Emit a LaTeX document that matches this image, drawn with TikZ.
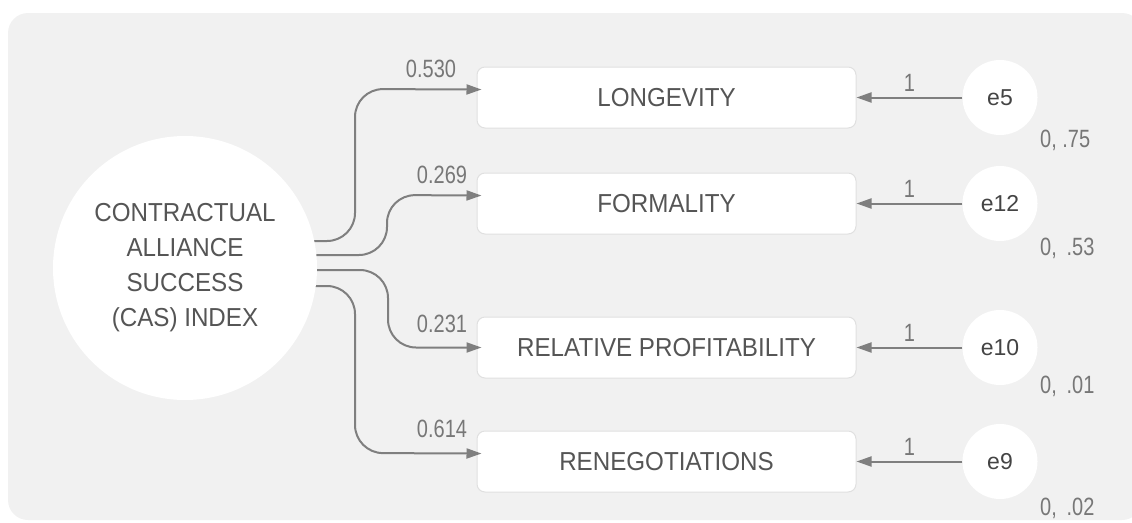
\documentclass[tikz,border=0pt]{standalone}
\usepackage{fontspec}
\setmainfont{Liberation Sans}
\newfontfamily\capsfont[FakeStretch=0.93]{Liberation Sans}
\newfontfamily\numfont[FakeStretch=0.8]{Liberation Sans}
\usetikzlibrary{arrows.meta}
\definecolor{panel}{HTML}{F1F1F1}
\definecolor{boxline}{HTML}{E0E0E0}
\definecolor{linec}{HTML}{7F7F7F}
\definecolor{txt}{HTML}{555555}
\definecolor{etxt}{HTML}{444444}
\definecolor{numc}{HTML}{777777}
\begin{document}
\begin{tikzpicture}[x=1pt,y=-1pt,
  panelbg/.style={fill=panel, rounded corners=20pt},
  latent/.style={circle, fill=white, minimum size=264pt, inner sep=0pt,
    font=\capsfont\fontsize{26}{35}\selectfont, text=txt, align=center},
  errnode/.style={circle, fill=white, minimum size=75pt, inner sep=0pt,
    font=\fontsize{23}{28}\selectfont, text=etxt},
  obs/.style={rectangle, rounded corners=8pt, draw=boxline, line width=1pt,
    fill=white, minimum width=379pt, minimum height=61pt,
    font=\capsfont\fontsize{26}{31}\selectfont, text=txt},
  conn/.style={draw=linec, line width=2pt, rounded corners=28pt,
    -{Triangle[length=15pt,width=10pt]}, shorten >=-5pt},
  errarrow/.style={draw=linec, line width=2pt,
    -{Triangle[length=15pt,width=10pt]}},
  numlbl/.style={font=\numfont\fontsize{25}{30}\selectfont, text=numc, inner sep=0pt},
]
\useasboundingbox (0,0) rectangle (1132,522);
\clip (0,0) rectangle (1132,522);

% background panel
\fill[panelbg] (8,13) rectangle (1142,520);

% observed indicators
\node[obs] (lon) at (666.5,97.5) {LONGEVITY};
\node[obs] (for) at (666.5,203.5) {FORMALITY};
\node[obs] (rel) at (666.5,347.5) {RELATIVE PROFITABILITY};
\node[obs] (ren) at (666.5,461.5) {RENEGOTIATIONS};

% error terms
\node[errnode] (e5)  at (1000,97.5)  {e5};
\node[errnode] (e12) at (1000,203.5) {e12};
\node[errnode] (e10) at (1000,347.5) {e10};
\node[errnode] (e9)  at (1000,461.5) {e9};

% error paths
\foreach \e/\b in {e5/lon, e12/for, e10/rel, e9/ren}
  \draw[errarrow] (\e.west) -- node[numlbl, above=5pt] (one-\e) {1} (\b.east);

% variances of the error terms
\node[numlbl, anchor=base west] (v5)  at (1040,147) {0, .75};
\node[numlbl, anchor=base west] (v12) at (1040,255) {0,\, .53};
\node[numlbl, anchor=base west] (v10) at (1040,393) {0,\, .01};
\node[numlbl, anchor=base west] (v9)  at (1040,515) {0,\, .02};

% loading paths from the latent factor
\coordinate (s1) at (290,241);
\coordinate (s2) at (290,255);
\coordinate (s3) at (290,270);
\coordinate (s4) at (290,286);
\coordinate (t1) at ([yshift=8pt]lon.west);
\coordinate (t2) at ([yshift=8pt]for.west);
\coordinate (t3) at (rel.west);
\coordinate (t4) at ([yshift=8pt]ren.west);

\draw[conn] (s1) -| (355,89) -- (t1);
\draw[conn] (s2) -| (387,195) -- (t2);
\draw[conn] (s3) -| (388,347.5) -- (t3);
\draw[conn] (s4) -| (355,453) -- (t4);

% loading values
\node[numlbl, anchor=base] (w1) at (431,77)  {0.530};
\node[numlbl, anchor=base] (w2) at (442,183) {0.269};
\node[numlbl, anchor=base] (w3) at (442,332) {0.231};
\node[numlbl, anchor=base] (w4) at (442,437) {0.614};

% latent factor
\node[latent] (cas) at (185,268) {CONTRACTUAL\\ALLIANCE\\SUCCESS\\(CAS) INDEX};
\end{tikzpicture}
\end{document}
